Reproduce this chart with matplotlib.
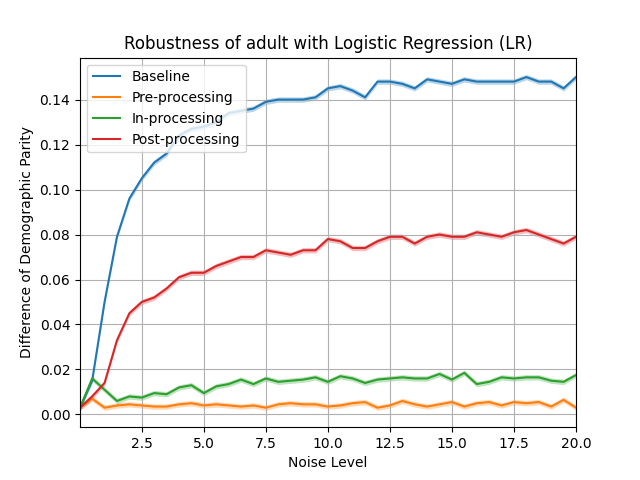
import numpy as np
import matplotlib
matplotlib.use("Agg")
import matplotlib.pyplot as plt

noise = [0.01] + [0.5 * i for i in range(1, 41)]
baseline = [0.003,0.015,0.050,0.079,0.096,0.105,0.112,0.116,0.124,0.127,0.128,0.130,0.134,0.135,0.136,0.139,0.140,0.140,0.140,0.141,0.145,0.146,0.144,0.141,0.148,0.148,0.147,0.145,0.149,0.148,0.147,0.149,0.148,0.148,0.148,0.148,0.150,0.148,0.148,0.145,0.150]
pre = [0.003,0.007,0.003,0.004,0.0045,0.004,0.0035,0.0035,0.0045,0.005,0.004,0.0045,0.004,0.0035,0.004,0.003,0.0045,0.005,0.0045,0.0045,0.0035,0.004,0.005,0.0055,0.003,0.004,0.006,0.0045,0.0035,0.0045,0.0055,0.0035,0.005,0.0055,0.004,0.0055,0.005,0.0055,0.0035,0.0065,0.003]
inproc = [0.003,0.016,0.011,0.006,0.008,0.0075,0.0095,0.009,0.012,0.013,0.0095,0.0125,0.0135,0.0155,0.0135,0.016,0.0145,0.015,0.0155,0.0165,0.0145,0.017,0.016,0.014,0.0155,0.016,0.0165,0.016,0.016,0.018,0.0155,0.0185,0.0135,0.0145,0.0165,0.016,0.0165,0.0165,0.015,0.0145,0.0175]
post = [0.003,0.008,0.014,0.033,0.045,0.050,0.052,0.056,0.061,0.063,0.063,0.066,0.068,0.070,0.070,0.073,0.072,0.071,0.073,0.073,0.078,0.077,0.074,0.074,0.077,0.079,0.079,0.076,0.079,0.080,0.079,0.079,0.081,0.080,0.079,0.081,0.082,0.080,0.078,0.076,0.079]

fig, ax = plt.subplots(figsize=(6.4, 4.8), dpi=100)
x = np.array(noise)
for name, vals in [("Baseline", baseline), ("Pre-processing", pre), ("In-processing", inproc), ("Post-processing", post)]:
    v = np.array(vals)
    line, = ax.plot(x, v, label=name)
    ax.fill_between(x, v - 0.0012, v + 0.0012, color=line.get_color(), alpha=0.3, linewidth=0)
ax.set_xlim(x.min(), x.max())
ax.grid(True)
ax.set_xlabel("Noise Level")
ax.set_ylabel("Difference of Demographic Parity")
ax.set_title("Robustness of adult with Logistic Regression (LR)")
ax.legend(loc="upper left")
fig.savefig("out.png")
